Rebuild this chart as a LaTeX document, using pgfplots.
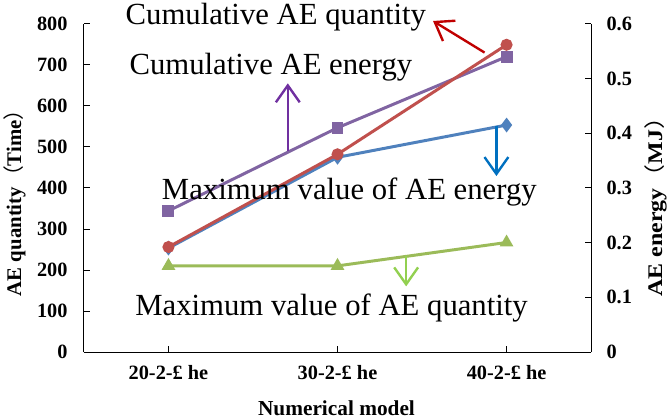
\documentclass[border=0pt]{standalone}
\usepackage{pgfplots}
\pgfplotsset{compat=1.18}
\usepackage{fontspec}
\setmainfont{Liberation Serif}
\newfontfamily\cjk{Noto Sans CJK SC}
\usetikzlibrary{arrows.meta}
\definecolor{cred}{HTML}{C0504D}
\definecolor{cpurple}{HTML}{8064A2}
\definecolor{cblue}{HTML}{4F81BD}
\definecolor{cgreen}{HTML}{9BBB59}
\definecolor{ared}{HTML}{C00000}
\definecolor{apurple}{HTML}{7030A0}
\definecolor{ablue}{HTML}{0070C0}
\definecolor{agreen}{HTML}{92D050}
\tikzset{ann/.style={line width=2.4bp, -{Straight Barb[length=17bp,width=24bp]}}}
\newcommand{\lp}{{\cjk\mdseries （}}
\newcommand{\rp}{{\cjk\mdseries ）}}
\pgfplotsset{
  common/.style={
    width=510bp, height=330bp, scale only axis,
    xmin=-0.5, xmax=2.5,
    axis line style={-, line width=1pt, black},
    tick align=inside, major tick length=6bp,
    tick style={black, line width=0.9pt},
    ticklabel style={font=\fontsize{20.5}{24}\selectfont\bfseries},
    label style={font=\fontsize{21}{25}\selectfont\bfseries},
    /pgf/number format/assume math mode=true,
    clip=false,
  },
}
\newcommand{\annfont}{\fontsize{31}{36}\selectfont}
\begin{document}
\begin{tikzpicture}
% right axis: energy (MJ)
\begin{axis}[common,
  ymin=0, ymax=0.6,
  axis y line*=right, axis x line=none,
  ytick={0,0.1,0.2,0.3,0.4,0.5,0.6},
  yticklabels={0,0.1,0.2,0.3,0.4,0.5,0.6},
  yticklabel shift=12bp,
  ylabel={\scalebox{1.15}[1]{AE energy\lp MJ\rp}},
  ylabel style={at={(axis description cs:1.127,0.46)}, anchor=center, rotate=0},
]
\addplot[cpurple, line width=3bp, mark=square*, mark size=4.5bp, mark options={solid}]
  coordinates {(0,0.258) (1,0.41) (2,0.54)};
\addplot[cblue, line width=3bp, mark=diamond*, mark size=5bp]
  coordinates {(0,0.19) (1,0.356) (2,0.415)};
\end{axis}
% left axis: quantity
\begin{axis}[common,
  ymin=0, ymax=800,
  axis x line*=bottom, axis y line*=left,
  xtick={0,1,2},
  xticklabels={20-2-£ he, 30-2-£ he, 40-2-£ he},
  ytick={0,100,...,800},
  yticklabel shift=13bp,
  xticklabel shift=10bp,
  ylabel={AE quantity\lp Time\rp},
  ylabel style={at={(axis description cs:-0.137,0.47)}, anchor=center},
  xlabel={\fontsize{21.5}{25}\selectfont Numerical model},
  xlabel style={at={(axis description cs:0.498,-0.17)}, anchor=center},
]
\addplot[cred, line width=3bp, mark=*, mark size=4.5bp]
  coordinates {(0,256) (1,482) (2,749)};
\addplot[cgreen, line width=3bp, mark=triangle*, mark size=5bp]
  coordinates {(0,210) (1,210) (2,267)};
% annotations
\node[anchor=base, font=\annfont] at (axis cs:0.635,797.6) {Cumulative AE quantity};
\node[anchor=base, font=\annfont] at (axis cs:0.606,676) {Cumulative AE energy};
\node[anchor=base, font=\annfont] at (axis cs:1.07,373) {Maximum value of AE energy};
\node[anchor=base, font=\annfont] at (axis cs:0.965,90) {Maximum value of AE quantity};
\draw[ared, ann] (axis cs:1.87,730) -- (axis cs:1.565,807);
\draw[apurple, ann] (axis cs:0.706,490) -- (axis cs:0.706,655);
\draw[ablue, ann] (axis cs:1.94,550) -- (axis cs:1.94,429);
\draw[agreen, ann] (axis cs:1.406,235) -- (axis cs:1.406,160);
\path (rel axis cs:-0.1608,-0.194) rectangle (rel axis cs:1.153,1.0727);
\end{axis}
\end{tikzpicture}
\end{document}
